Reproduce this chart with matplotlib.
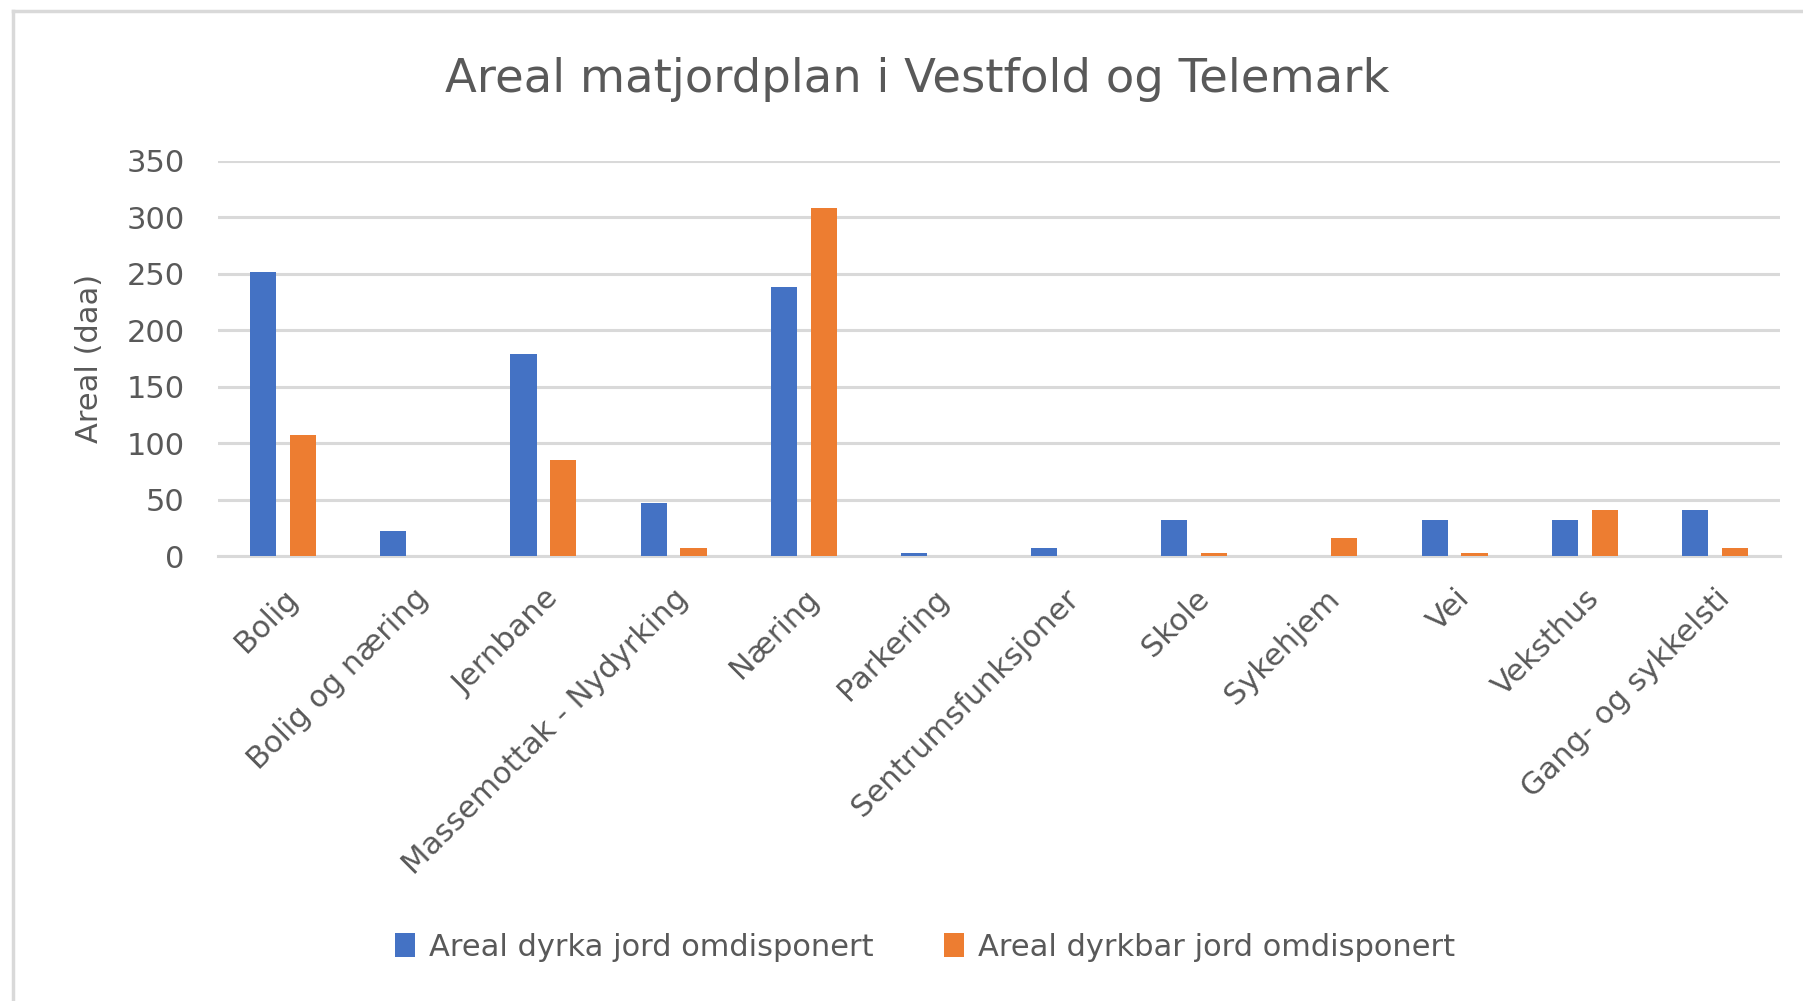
import numpy as np
import matplotlib
matplotlib.use("Agg")
import matplotlib.pyplot as plt
from matplotlib.lines import Line2D

# Data
categories = ['Bolig', 'Bolig og næring', 'Jernbane', 'Massemottak - Nydyrking',
              'Næring', 'Parkering', 'Sentrumsfunksjoner', 'Skole', 'Sykehjem',
              'Vei', 'Veksthus', 'Gang- og sykkelsti']
dyrka = [252, 22, 179, 47, 238, 3, 7, 32, 0, 32, 32, 41]
dyrkbar = [107, 0, 85, 7, 308, 0, 0, 3, 16, 3, 41, 7]
series_names = ['Areal dyrka jord omdisponert', 'Areal dyrkbar jord omdisponert']
y_ticks = [0, 50, 100, 150, 200, 250, 300, 350]

BLUE = '#4472C4'
ORANGE = '#ED7D31'
GRID = '#D9D9D9'
TEXT = '#595959'

plt.rcParams['font.family'] = ['DejaVu Sans']

W, H = 1803, 1001
fig = plt.figure(figsize=(W / 100, H / 100), dpi=100)
fig.patch.set_facecolor('white')

# chart frame (only top and left edges are visible in the crop)
fig.add_artist(Line2D([13 / W, 13 / W], [0, 1 - 11 / H], transform=fig.transFigure,
                      color=GRID, lw=2.5))
fig.add_artist(Line2D([13 / W, 1], [1 - 11 / H, 1 - 11 / H], transform=fig.transFigure,
                      color=GRID, lw=2.5))

ax = fig.add_axes([218 / W, 1 - 556 / H, (1780 - 218) / W, (556 - 161) / H])

x = np.arange(len(categories))
w = 0.2
ax.bar(x - 0.153, dyrka, width=w, color=BLUE, label=series_names[0], zorder=3)
ax.bar(x + 0.153, dyrkbar, width=w, color=ORANGE, label=series_names[1], zorder=3)

ax.set_xlim(-0.5, len(categories) - 0.5)
ax.set_ylim(0, 350)
ax.set_yticks(y_ticks)
ax.yaxis.grid(True, color=GRID, lw=2.2, zorder=0)
ax.set_axisbelow(True)
for s in ['top', 'right', 'left']:
    ax.spines[s].set_visible(False)
ax.spines['bottom'].set_color(GRID)
ax.spines['bottom'].set_linewidth(2.2)
ax.tick_params(axis='y', length=0, pad=24, labelsize=22, labelcolor=TEXT)
ax.tick_params(axis='x', length=0, pad=20, labelcolor=TEXT)

ax.set_xticks(x)
ax.set_xticklabels(categories, rotation=45, ha='right', rotation_mode='anchor',
                   fontsize=22)

ax.set_ylabel('Areal (daa)', fontsize=22, color=TEXT, labelpad=16)

fig.text(917 / W, 1 - 80 / H, 'Areal matjordplan i Vestfold og Telemark',
         ha='center', va='center', fontsize=33.5, color=TEXT)

fig.legend(loc='center', bbox_to_anchor=(925 / W, 1 - 947 / H), ncol=2,
           frameon=False, fontsize=22, labelcolor=TEXT, handlelength=0.65,
           handleheight=0.8, handletextpad=0.45, columnspacing=2.3)

fig.savefig('out.png', dpi=100)
